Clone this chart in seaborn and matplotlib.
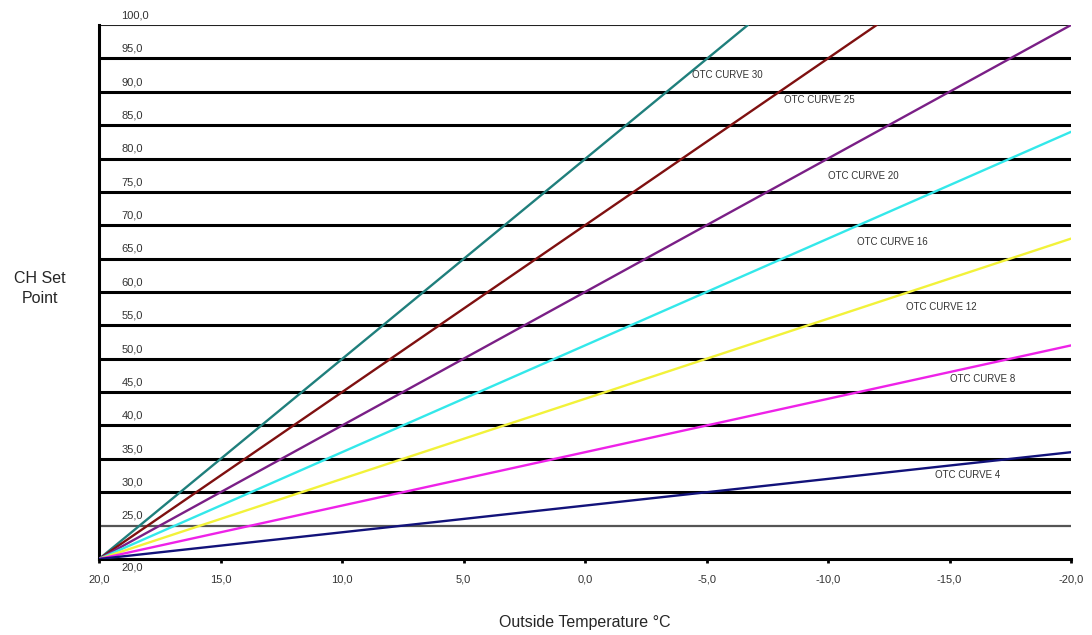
import pandas as pd
import matplotlib
matplotlib.use('Agg')
import matplotlib.pyplot as plt
import seaborn as sns

# --- Data ---
curve_names = ['OTC CURVE 30', 'OTC CURVE 25', 'OTC CURVE 20', 'OTC CURVE 16',
               'OTC CURVE 12', 'OTC CURVE 8', 'OTC CURVE 4']
start_temp = [20.0, 20.0, 20.0, 20.0, 20.0, 20.0, 20.0]
start_setpoint = [20.0, 20.0, 20.0, 20.0, 20.0, 20.0, 20.0]
end_temp = [-6.7, -12.0, -20.0, -20.0, -20.0, -20.0, -20.0]
end_setpoint = [100.0, 100.0, 100.0, 84.0, 68.0, 52.0, 36.0]

# where the curve names sit (outside temp, set point)
label_temp = [-4.4, -8.2, -10.0, -11.2, -13.2, -15.0, -14.4]
label_setpoint = [92.5, 88.8, 77.4, 67.5, 57.8, 47.0, 32.6]

y_ticks = [20, 25, 30, 35, 40, 45, 50, 55, 60, 65, 70, 75, 80, 85, 90, 95, 100]
x_ticks = [20, 15, 10, 5, 0, -5, -10, -15, -20]

line_colors = ['#1f7f7c', '#7f1010', '#7a1f86', '#33e8ea', '#f2f23a', '#ee22e8', '#12127a']

# --- Long format for seaborn ---
rows = []
for i, name in enumerate(curve_names):
    rows.append({'Curve': name, 'Temp': start_temp[i], 'SetPoint': start_setpoint[i]})
    rows.append({'Curve': name, 'Temp': end_temp[i], 'SetPoint': end_setpoint[i]})
df = pd.DataFrame(rows)

sns.set_style('white')
plt.rcParams['font.family'] = ['Liberation Sans', 'DejaVu Sans']

fig = plt.figure(figsize=(10.92, 6.35), dpi=100)
ax = fig.add_axes([0.0907, 0.1197, 0.8901, 0.8409])

# horizontal grid lines (25 and 100 a bit lighter, like the scan)
for v in y_ticks[1:]:
    if v == 25:
        ax.axhline(v, color='#555555', lw=1.6, zorder=1)
    elif v == 100:
        ax.axhline(v, color='#222222', lw=1.5, zorder=1)
    else:
        ax.axhline(v, color='black', lw=2.2, zorder=1)

sns.lineplot(data=df, x='Temp', y='SetPoint', hue='Curve', palette=line_colors,
             hue_order=curve_names, linewidth=1.7, legend=False, ax=ax, zorder=3)

# curve labels
for name, tx, ty in zip(curve_names, label_temp, label_setpoint):
    ax.text(tx, ty, name, fontsize=7, color='#333333', ha='left', va='center', zorder=4)

ax.set_xlim(20, -20)
ax.set_ylim(20, 100)

ax.set_xticks(x_ticks)
ax.set_xticklabels([f'{t:.1f}'.replace('.', ',') for t in x_ticks], fontsize=8, color='#333333')
ax.tick_params(axis='x', direction='out', length=3, width=2, color='black', pad=8, bottom=True)

# y labels sit inside the plot, just above each line
ax.set_yticks([])
for v in y_ticks:
    dy = -6 if v == 20 else 7
    ax.annotate(f'{v:.1f}'.replace('.', ','), xy=(0, v), xycoords=ax.get_yaxis_transform(),
                xytext=(16, dy), textcoords='offset points', fontsize=8,
                color='#333333', ha='left', va='center', annotation_clip=False)

for side in ['top', 'right']:
    ax.spines[side].set_visible(False)
ax.spines['left'].set_color('black')
ax.spines['left'].set_linewidth(2.2)
ax.spines['bottom'].set_color('black')
ax.spines['bottom'].set_linewidth(2.2)

ax.set_xlabel('Outside Temperature °C', fontsize=11.5, labelpad=22)
ax.set_ylabel('CH Set\nPoint', fontsize=11.5, rotation=0, ha='center', va='center',
              linespacing=1.45)
ax.yaxis.set_label_coords(-0.061, 0.507)

fig.savefig('out.png', dpi=100)
